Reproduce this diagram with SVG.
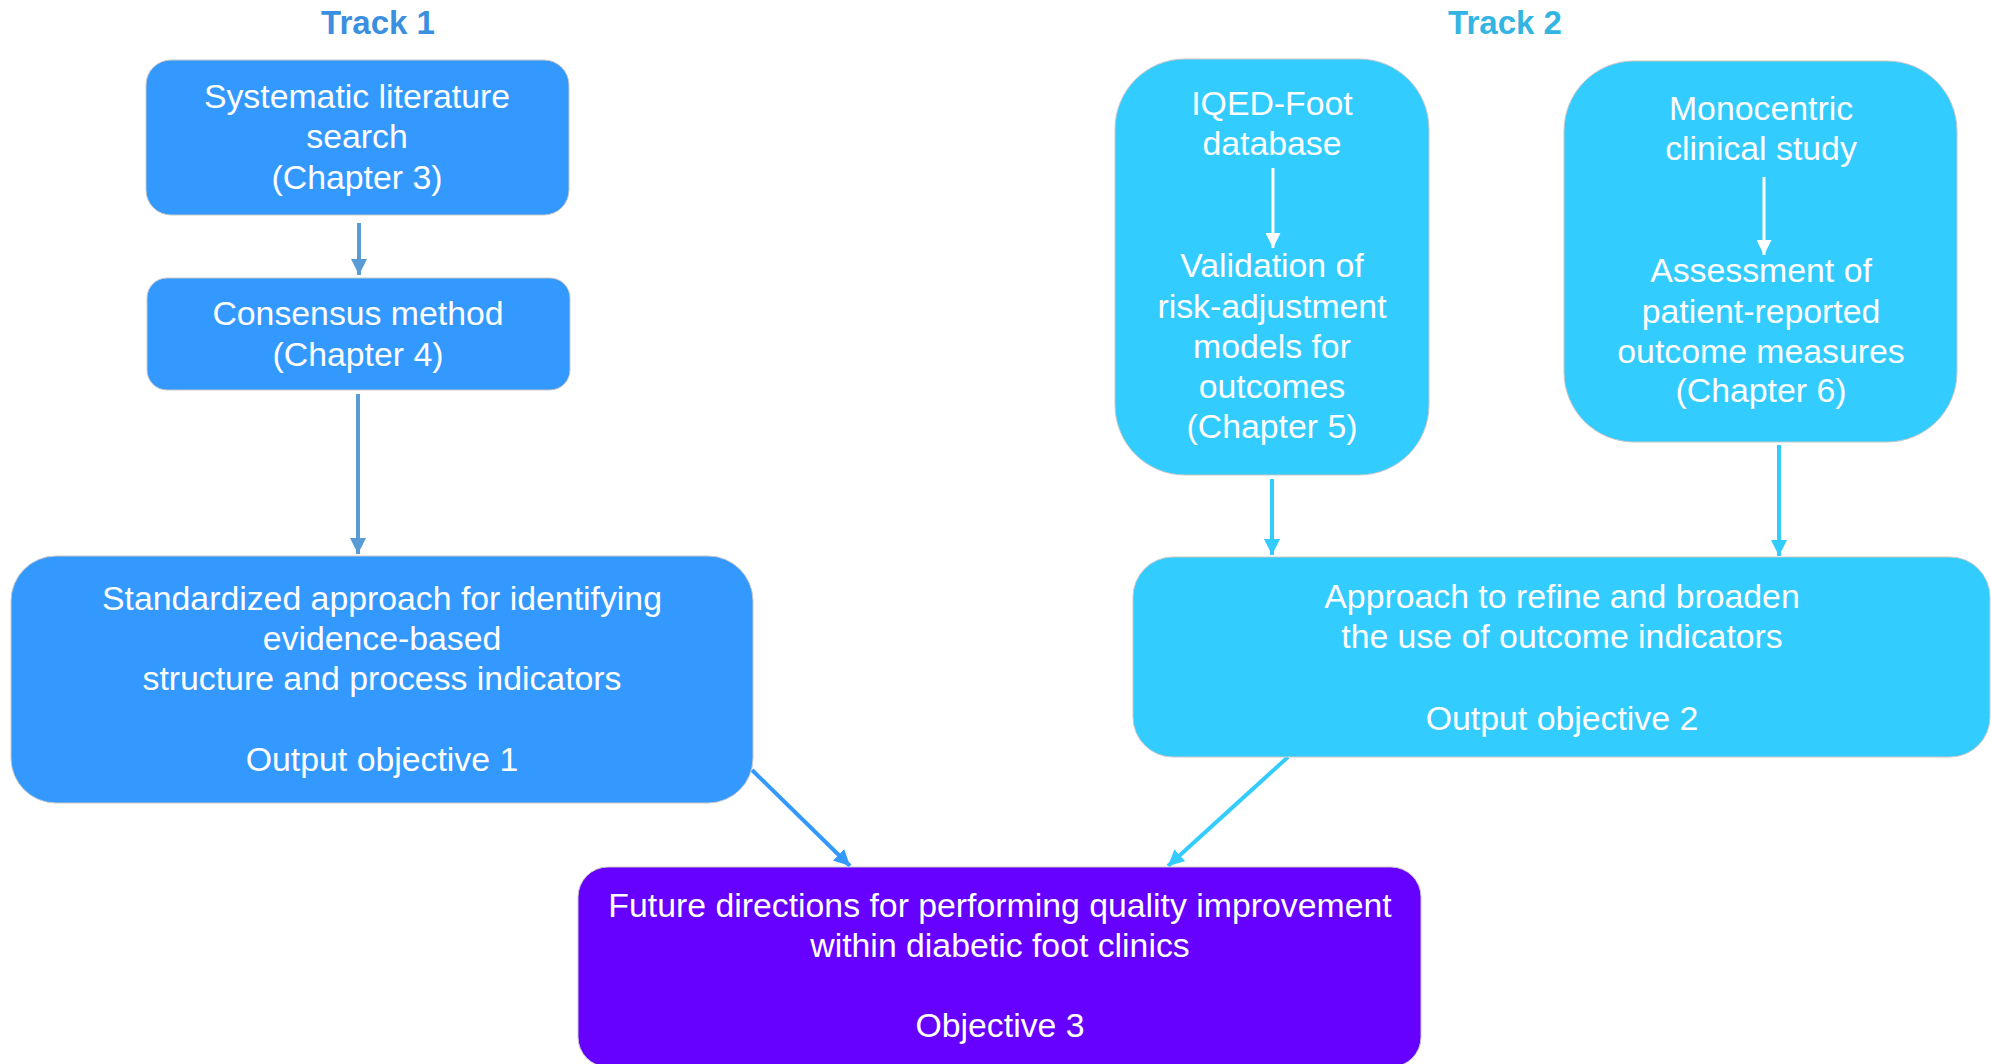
<svg xmlns="http://www.w3.org/2000/svg" width="1991" height="1064" viewBox="0 0 1991 1064">
<style>
.t{font-family:"Liberation Sans",Arial,sans-serif;font-size:33.8px;fill:#fff;text-anchor:middle}
.h{font-family:"Liberation Sans",Arial,sans-serif;font-size:33px;font-weight:bold;text-anchor:middle}
.b1{fill:#3399ff;stroke:#c8c8c8;stroke-width:1}
.b2{fill:#33ccff;stroke:#c8c8c8;stroke-width:1}
.b3{fill:#6600ff;stroke:#c8c8c8;stroke-width:1}
</style>
<defs>
<marker id="mSteel" viewBox="0 0 10 10" refX="10" refY="5" markerWidth="4" markerHeight="4" orient="auto" markerUnits="strokeWidth"><path d="M0,0 L10,5 L0,10 z" fill="#5b9bd5"/></marker>
<marker id="mBlue" viewBox="0 0 10 10" refX="10" refY="5" markerWidth="4" markerHeight="4" orient="auto" markerUnits="strokeWidth"><path d="M0,0 L10,5 L0,10 z" fill="#3399ff"/></marker>
<marker id="mCyan" viewBox="0 0 10 10" refX="10" refY="5" markerWidth="4" markerHeight="4" orient="auto" markerUnits="strokeWidth"><path d="M0,0 L10,5 L0,10 z" fill="#33ccff"/></marker>
<marker id="mWhite" viewBox="0 0 10 10" refX="10" refY="5" markerWidth="5" markerHeight="5" orient="auto" markerUnits="strokeWidth"><path d="M0,0 L10,5 L0,10 z" fill="#ffffff"/></marker>
</defs>
<rect width="1991" height="1064" fill="#ffffff"/>
<text class="h" x="378" y="34" fill="#3a8fe0">Track 1</text>
<text class="h" x="1505" y="34" fill="#33b4e3">Track 2</text>

<g id="connectors" fill="none">
<line x1="359" y1="223" x2="359" y2="275" stroke="#5b9bd5" stroke-width="4" marker-end="url(#mSteel)"/>
<line x1="358" y1="394" x2="358" y2="554" stroke="#5b9bd5" stroke-width="4" marker-end="url(#mSteel)"/>
<line x1="1272" y1="479" x2="1272" y2="555" stroke="#33ccff" stroke-width="4" marker-end="url(#mCyan)"/>
<line x1="1779" y1="445" x2="1779" y2="556" stroke="#33ccff" stroke-width="4" marker-end="url(#mCyan)"/>
<line x1="752" y1="770" x2="850" y2="866" stroke="#3399ff" stroke-width="4" marker-end="url(#mBlue)"/>
<line x1="1288" y1="757" x2="1168" y2="866" stroke="#33ccff" stroke-width="4" marker-end="url(#mCyan)"/>
</g>

<g id="n1">
<rect class="b1" x="146" y="60" width="423" height="155" rx="25"/>
<text class="t" x="357" y="108">Systematic literature</text>
<text class="t" x="357" y="148">search</text>
<text class="t" x="357" y="189">(Chapter 3)</text>
</g>
<g id="n2">
<rect class="b1" x="147" y="278" width="423" height="112" rx="20"/>
<text class="t" x="358" y="325">Consensus method</text>
<text class="t" x="358" y="366">(Chapter 4)</text>
</g>
<g id="n3">
<rect class="b1" x="11" y="556" width="742" height="247" rx="45"/>
<text class="t" x="382" y="610">Standardized approach for identifying</text>
<text class="t" x="382" y="650">evidence-based</text>
<text class="t" x="382" y="690">structure and process indicators</text>
<text class="t" x="382" y="771">Output objective 1</text>
</g>
<g id="n6">
<rect class="b2" x="1115" y="59" width="314" height="416" rx="70"/>
<text class="t" x="1272" y="115">IQED-Foot</text>
<text class="t" x="1272" y="155">database</text>
<line x1="1273" y1="168" x2="1273" y2="248" stroke="#ffffff" stroke-width="3" marker-end="url(#mWhite)"/>
<text class="t" x="1272" y="277">Validation of</text>
<text class="t" x="1272" y="318">risk-adjustment</text>
<text class="t" x="1272" y="358">models for</text>
<text class="t" x="1272" y="398">outcomes</text>
<text class="t" x="1272" y="438">(Chapter 5)</text>
</g>
<g id="n7">
<rect class="b2" x="1564" y="61" width="393" height="381" rx="70"/>
<text class="t" x="1761" y="120">Monocentric</text>
<text class="t" x="1761" y="160">clinical study</text>
<line x1="1764" y1="177" x2="1764" y2="255" stroke="#ffffff" stroke-width="3" marker-end="url(#mWhite)"/>
<text class="t" x="1761" y="282">Assessment of</text>
<text class="t" x="1761" y="323">patient-reported</text>
<text class="t" x="1761" y="363">outcome measures</text>
<text class="t" x="1761" y="402">(Chapter 6)</text>
</g>
<g id="n5">
<rect class="b2" x="1133" y="557" width="857" height="200" rx="40"/>
<text class="t" x="1562" y="608">Approach to refine and broaden</text>
<text class="t" x="1562" y="648">the use of outcome indicators</text>
<text class="t" x="1562" y="730">Output objective 2</text>
</g>
<g id="n4">
<rect class="b3" x="578" y="867" width="843" height="200" rx="30"/>
<text class="t" x="1000" y="917">Future directions for performing quality improvement</text>
<text class="t" x="1000" y="957">within diabetic foot clinics</text>
<text class="t" x="1000" y="1037">Objective 3</text>
</g>
</svg>
